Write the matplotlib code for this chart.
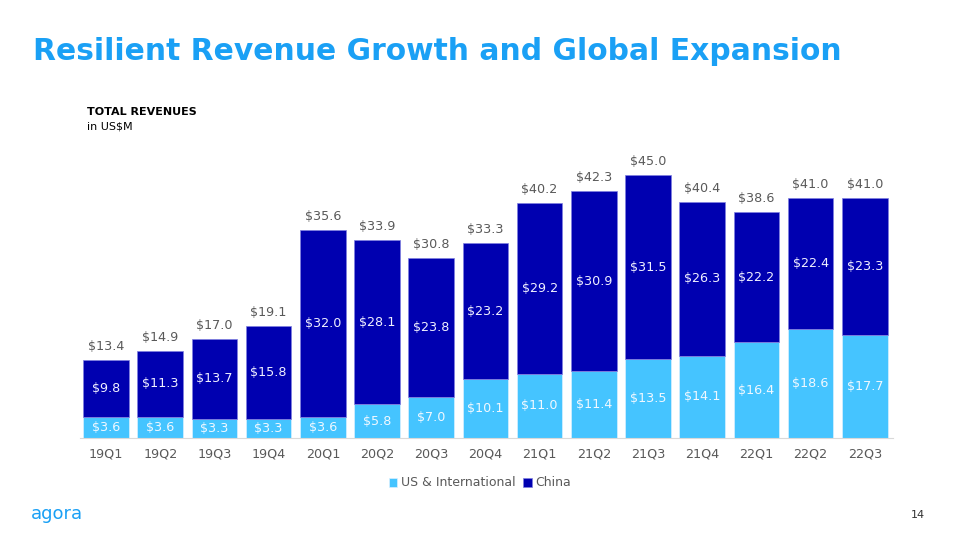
import numpy as np
import matplotlib
matplotlib.use("Agg")
import matplotlib.pyplot as plt

quarters = ["19Q1", "19Q2", "19Q3", "19Q4", "20Q1", "20Q2", "20Q3", "20Q4",
            "21Q1", "21Q2", "21Q3", "21Q4", "22Q1", "22Q2", "22Q3"]
us_intl = [3.6, 3.6, 3.3, 3.3, 3.6, 5.8, 7.0, 10.1,
           11.0, 11.4, 13.5, 14.1, 16.4, 18.6, 17.7]
china = [9.8, 11.3, 13.7, 15.8, 32.0, 28.1, 23.8, 23.2,
         29.2, 30.9, 31.5, 26.3, 22.2, 22.4, 23.3]
totals = [13.4, 14.9, 17.0, 19.1, 35.6, 33.9, 30.8, 33.3,
          40.2, 42.3, 45.0, 40.4, 38.6, 41.0, 41.0]

LIGHT = "#45c4ff"
DARK = "#0000b0"
TITLE_BLUE = "#1aa0f5"
GRAY = "#595959"

plt.rcParams["font.family"] = ["DejaVu Sans"]

fig = plt.figure(figsize=(9.6, 5.4), dpi=100)
ax = fig.add_axes([80 / 960, 102 / 540, 813 / 960, 298 / 540])

x = np.arange(len(quarters))
us = np.array(us_intl)
cn = np.array(china)
ax.bar(x, us, width=0.84, color=LIGHT, edgecolor="#d8f0ff", linewidth=0.5,
       label="US & International")
ax.bar(x, cn, width=0.84, bottom=us, color=DARK, edgecolor="#8080e0",
       linewidth=0.5, label="China")

for i in x:
    ax.text(i, us[i] / 2, f"${us[i]:.1f}", ha="center", va="center",
            color="#f0f8ff", fontsize=9.2)
    ax.text(i, us[i] + cn[i] / 2, f"${cn[i]:.1f}", ha="center", va="center",
            color="#f0f0ff", fontsize=9.2)
    ax.text(i, totals[i] + 1.2, f"${totals[i]:.1f}", ha="center", va="bottom",
            color=GRAY, fontsize=9.2)

ax.set_xlim(-0.48, 14.52)
ax.set_ylim(0, 51)
ax.set_xticks(x)
ax.set_xticklabels(quarters, color=GRAY, fontsize=9.2)
ax.tick_params(axis="x", length=0, pad=7)
ax.set_yticks([])
for side in ["left", "right", "top"]:
    ax.spines[side].set_visible(False)
ax.spines["bottom"].set_color("#d9d9d9")

fig.legend(loc="center", bbox_to_anchor=(480 / 960, 1 - 483 / 540),
           ncol=2, frameon=False, fontsize=9, handlelength=0.7,
           handleheight=0.7, handletextpad=0.3, columnspacing=0.6,
           labelcolor=GRAY)

fig.text(33 / 960, 1 - 52 / 540, "Resilient Revenue Growth and Global Expansion",
         color=TITLE_BLUE, fontsize=21.4, fontweight="bold", va="center")
fig.text(87 / 960, 1 - 112 / 540, "TOTAL REVENUES", fontsize=8,
         fontweight="bold", va="center", color="black")
fig.text(87 / 960, 1 - 126 / 540, "in US$M", fontsize=8, va="center",
         color="black")
# logo stand-in
fig.text(31 / 960, 1 - 514 / 540, "agora", fontsize=13, color=TITLE_BLUE,
         va="center", fontweight="medium")
fig.text(911 / 960, 1 - 515 / 540, "14", fontsize=8, va="center",
         color="#333333")

fig.savefig("out.png", dpi=100)
